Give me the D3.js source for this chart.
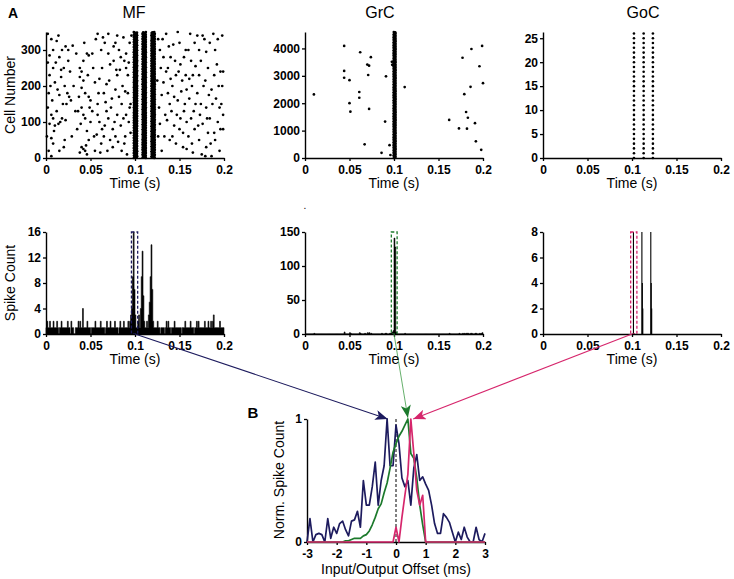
<!DOCTYPE html>
<html><head><meta charset="utf-8">
<script src="https://cdn.jsdelivr.net/npm/d3@7"></script>
<style>body{margin:0;background:#fff}svg{display:block}text{font-family:"Liberation Sans",Arial,sans-serif}</style>
</head><body><svg id="c" width="734" height="579"></svg>
<script>
// ---------------- data ----------------
const panelTitles = ["MF", "GrC", "GoC"];
const timeTicks = [0, 0.05, 0.1, 0.15, 0.2];
const timeTickLabels = ["0", "0.05", "0.1", "0.15", "0.2"];
const mfCellTicks = [0, 100, 200, 300];
const grcCellTicks = [0, 1000, 2000, 3000, 4000];
const gocCellTicks = [0, 5, 10, 15, 20, 25];
const mfCountTicks = [0, 4, 8, 12, 16];
const grcCountTicks = [0, 50, 100, 150];
const gocCountTicks = [0, 2, 4, 6, 8];
const offsetTicks = [-3, -2, -1, 0, 1, 2, 3];
const offsetTickLabels = ["-3", "-2", "-1", "0", "1", "2", "3"];
const normTicks = [0, 1];

// MF raster: synchronous bands (every cell fires once per band) + background spikes
const mfBandTimes = [0.1005, 0.1103, 0.1203];
const mfBandJitter = [-0.0018, 0.0006, -0.0004, 0.0015, -0.0011, 0.0019, 0.0, -0.0016, 0.0009, -0.0007, 0.0013, -0.0002, 0.0017, -0.0013];
const mfCellCount = 351;
const mfScatter = [
[0.002,345],[0.006,330],[0.008,300],[0.004,285],[0.002,265],[0.008,250],[0.010,210],[0.005,200],[0.003,180],[0.007,160],[0.002,140],[0.006,120],[0.008,110],[0.004,95],[0.001,60],[0.006,55],[0.008,40],[0.003,20],[0.006,5],[0.012,325],[0.015,280],[0.018,300],[0.022,310],[0.025,270],[0.020,250],[0.017,225],[0.021,200],[0.024,180],[0.026,170],[0.028,160],[0.023,150],[0.015,175],[0.013,190],[0.012,130],[0.018,110],[0.014,95],[0.010,90],[0.016,100],[0.022,105],[0.020,30],[0.015,20],[0.025,300],[0.030,312],[0.035,80],[0.038,250],[0.040,240],[0.038,225],[0.042,215],[0.040,195],[0.044,180],[0.046,290],[0.048,285],[0.042,270],[0.036,130],[0.040,140],[0.042,120],[0.044,110],[0.040,30],[0.042,25],[0.038,15],[0.045,35],[0.044,20],[0.046,10],[0.048,50],[0.050,160],[0.048,170],[0.050,100],[0.046,75],
[0.052,290],[0.055,210],[0.058,150],[0.060,220],[0.062,300],[0.058,120],[0.060,100],[0.063,80],[0.065,60],[0.055,20],[0.062,40],[0.068,205],[0.065,180],[0.070,290],[0.072,260],[0.068,130],[0.070,110],[0.075,80],[0.072,50],[0.066,320],[0.078,320],[0.080,340],[0.082,300],[0.076,270],[0.080,230],[0.078,190],[0.082,170],[0.085,150],[0.080,120],[0.084,90],[0.078,60],[0.075,30],[0.085,20],[0.088,40],[0.090,290],[0.088,270],[0.090,250],[0.092,230],[0.086,200],[0.092,180],[0.094,140],[0.090,120],[0.093,100],[0.095,70],[0.091,10],[0.096,340],[0.094,320],[0.087,335],[0.070,345],[0.064,335],[0.058,345],[0.053,250],[0.057,65],[0.061,15],[0.067,155],[0.074,165],[0.083,245],[0.089,60],[0.077,100],[0.052,130],
[0.125,215],[0.127,140],[0.128,95],[0.126,60],[0.130,20],[0.132,210],[0.130,175],[0.134,120],[0.136,105],[0.128,300],[0.131,330],[0.135,345],[0.138,310],[0.140,280],[0.137,250],[0.140,220],[0.142,200],[0.139,150],[0.141,130],[0.144,90],[0.142,60],[0.146,40],[0.148,350],[0.150,320],[0.145,270],[0.149,240],[0.152,185],[0.148,160],[0.151,110],[0.150,80],[0.154,30],[0.155,280],[0.157,230],[0.158,190],[0.156,150],[0.158,100],[0.160,60],[0.158,25],[0.162,345],[0.160,300],[0.163,270],[0.165,230],[0.164,200],[0.166,130],[0.163,110],[0.167,80],[0.165,15],[0.170,340],[0.172,300],[0.168,255],[0.172,230],[0.170,180],[0.174,150],[0.173,120],[0.176,95],[0.172,50],[0.175,10],[0.178,330],[0.180,295],[0.182,250],[0.179,215],[0.183,175],[0.180,140],[0.184,110],[0.182,70],[0.180,30],[0.186,5],[0.188,345],[0.190,300],[0.192,260],[0.189,230],[0.194,200],[0.191,165],[0.195,140],[0.193,100],[0.196,80],[0.190,50],[0.195,20],[0.198,340],[0.199,240],[0.198,200],[0.197,150],[0.199,80],[0.176,340],[0.186,190],[0.161,165],[0.153,215],[0.144,170],[0.135,240],[0.185,40],[0.179,5],
[0.004,230],[0.009,75],[0.011,265],[0.014,340],[0.019,150],[0.027,240],[0.029,60],[0.031,200],[0.033,130],[0.034,290],[0.037,170],[0.039,95],[0.043,320],[0.047,230],[0.049,140],[0.054,60],[0.056,330],[0.059,180],[0.063,250],[0.066,90],[0.069,20],[0.071,215],[0.073,140],[0.076,310],[0.079,245],[0.081,45],[0.084,280],[0.087,110],[0.089,185],[0.093,265],[0.095,150],[0.126,330],[0.129,250],[0.133,60],[0.137,180],[0.143,315],[0.147,120],[0.151,260],[0.154,70],[0.157,300],[0.161,220],[0.164,40],[0.168,150],[0.171,90],[0.174,270],[0.177,200],[0.181,110],[0.184,320],[0.187,150],[0.189,70],[0.193,330],[0.196,240],[0.199,120],[0.167,320],[0.155,130],[0.139,50],[0.146,230],[0.132,280],[0.021,50],[0.017,245]
];

// GrC raster
const grcBandTime = 0.1007;
const grcBandJitter = [-0.0008, 0.0004, -0.0002, 0.0009, -0.0006, 0.0001, 0.0007, -0.0009];
const grcCellCount = 4600;
const grcCellStride = 12;
const grcScatter = [
[0.010,2320],[0.044,4090],[0.044,3180],[0.044,2930],[0.050,2840],[0.050,2000],[0.051,1690],[0.062,3860],[0.061,2410],[0.061,2200],[0.067,500],[0.070,3410],[0.072,3370],[0.071,3030],[0.074,3680],[0.072,1790],[0.086,190],[0.090,1330],[0.091,2980],[0.095,470],[0.096,110],[0.0976,3510],[0.098,3400],[0.112,2590],
[0.162,1390],[0.173,1080],[0.177,3660],[0.187,3980],[0.179,2330],[0.181,1680],[0.183,1470],[0.182,1070],[0.186,2600],[0.191,1270],[0.192,610],[0.196,3350],[0.199,4090],[0.200,2730],[0.198,300]
];

// GoC raster: 27 cells, three synchronous volleys
const gocBandTimes = [0.1022, 0.1131, 0.1235];
const gocCellCount = 27;

// PSTHs, 1 ms bins starting at 0
const binWidth = 0.001;
const mfCounts = [
1,2,1,1,2,1,1,1,2,1, 1,1,2,1,0,1,1,2,1,1, 1,1,1,1,2,1,1,0,2,1, 1,0,0,1,1,1,2,1,2,1,
1,4,1,1,1,1,2,1,1,1, 0,1,1,1,1,2,1,1,1,1, 1,2,1,1,1,1,0,1,2,1, 1,1,2,1,1,1,1,2,1,1,
1,0,1,2,1,1,1,2,1,1, 1,1,2,1,2,3,4,9,16,7, 3,1,1,2,3,1,4,9,13,6, 2,1,1,2,1,3,5,9,14,7,
2,1,1,1,1,2,1,1,0,1, 1,1,1,0,1,2,1,2,1,1, 0,1,1,1,2,1,1,1,1,1, 1,1,0,1,1,1,2,1,1,1,
1,1,2,1,1,1,0,1,1,2, 1,2,1,1,1,1,1,1,2,1, 1,1,2,1,1,2,1,2,3,1, 1,1,1,1,1,2,1,1,1,1
];
const grcCounts = [
0,0,0,0,0,0,0,0,0,0, 1,0,0,0,0,0,0,0,0,0, 0,0,0,0,0,0,0,0,0,0, 0,0,0,0,0,0,0,0,0,0,
0,0,0,0,3,0,0,0,0,0, 2,1,0,0,0,0,0,0,0,0, 0,2,1,0,0,0,0,1,0,0, 2,1,2,0,1,0,0,0,0,0,
0,0,0,0,0,0,1,0,0,0, 1,1,0,0,0,1,1,2,3,5, 141,128,3,0,0,0,0,0,0,0, 0,0,1,0,0,0,0,0,0,0,
0,0,0,0,0,0,0,0,0,0, 0,0,0,0,0,0,0,0,0,0, 0,0,0,0,0,0,0,0,0,0, 0,0,0,0,0,0,0,0,0,0,
0,0,1,0,0,0,0,0,0,0, 0,0,0,1,0,0,0,1,0,1, 0,1,1,1,0,0,1,1,0,0, 0,1,1,0,0,0,1,0,1,2
];
// GoC PSTH: 0.5 ms bins, only non-empty bins listed
const gocBinWidth = 0.0005;
const gocBinStarts = [0.1010, 0.1105, 0.1110, 0.1115, 0.1205, 0.1210, 0.1215];
const gocBinCounts = [8, 8, 4, 2, 8, 4, 2];

// analysis windows (dashed boxes)
const mfWindow = [0.096, 0.103];
const grcWindow = [0.097, 0.1035];
const gocWindow = [0.0985, 0.1055];

// Panel B: input/output offset histograms (ms), normalised
const offsetMs = [-3,-2.9,-2.8,-2.7,-2.6,-2.5,-2.4,-2.3,-2.2,-2.1,-2,-1.9,-1.8,-1.7,-1.6,-1.5,-1.4,-1.3,-1.2,-1.1,-1,-0.9,-0.8,-0.7,-0.6,-0.5,-0.4,-0.3,-0.2,-0.1,0,0.1,0.2,0.3,0.4,0.5,0.6,0.7,0.8,0.9,1,1.1,1.2,1.3,1.4,1.5,1.6,1.7,1.8,1.9,2,2.1,2.2,2.3,2.4,2.5,2.6,2.7,2.8,2.9,3];
const mfNorm = [0,0.19,0,0.06,0.07,0.06,0,0.19,0.03,0.12,0.07,0.15,0.17,0.1,0.05,0.17,0.18,0.25,0.12,0.5,0.3,0.3,0.45,0.65,0.3,0.5,0.62,1.0,0.62,0.62,0.95,0.8,0.52,0.45,0.5,0.3,0.6,0.71,0.5,0.53,0.47,0.42,0.3,0.15,0.07,0.07,0.23,0.2,0.16,0.08,0,0.08,0.02,0.12,0.04,0,0,0.12,0.02,0,0.07];
const grcNorm = [0,0,0,0,0,0,0,0,0,0,0,0,0,0.01,0.01,0.02,0.03,0.03,0.03,0.05,0.06,0.09,0.14,0.2,0.27,0.31,0.4,0.48,0.6,0.73,0.8,0.86,0.9,0.95,1.0,0.72,0.68,0.52,0.3,0.14,0,0,0,0,0,0,0,0,0,0,0,0,0,0,0,0,0,0,0,0,0];
const gocNorm = [0,0,0,0,0,0,0,0,0,0,0,0,0,0,0,0,0,0,0,0,0,0,0,0,0,0,0,0,0,0,0.12,0,0.2,0.38,0.55,1.0,0.72,0.42,0.3,0.38,0,0,0,0,0,0,0,0,0,0,0,0,0,0,0,0,0,0,0,0,0];
// arrow targets in panel B (offset ms, norm value) and source time (s)
const arrowTargets = [[-0.28, 1.0], [0.4, 1.01], [0.58, 1.0]];
const arrowSourceTime = 0.1;

// ---------------- drawing ----------------
const navy = "#1d1b5e", green = "#1c7a2c", pink = "#d6266c", arrowGreen = "#3f9c46";
const svg = d3.select("#c");
const FONT = "Liberation Sans, Arial, sans-serif";

const xMF = d3.scaleLinear([0, 0.2], [46, 224]);
const xGrC = d3.scaleLinear([0, 0.2], [305, 483]);
const xGoC = d3.scaleLinear([0, 0.2], [543, 721]);
const yMFr = d3.scaleLinear([0, 350], [158, 32]);
const yGrCr = d3.scaleLinear([0, 4600], [158, 32]);
const yGoCr = d3.scaleLinear([0, 26.3], [158, 32]);
const yMFh = d3.scaleLinear([0, 16], [334, 232]);
const yGrCh = d3.scaleLinear([0, 150], [334, 232]);
const yGoCh = d3.scaleLinear([0, 8], [334, 232]);
const xB = d3.scaleLinear([-3, 3], [307, 485]);
const yB = d3.scaleLinear([0, 1], [542, 419]);

function styleAxis(g) {
  g.attr("font-family", FONT).attr("font-size", 12);
  g.selectAll("path.domain").attr("stroke", "#000").attr("stroke-width", 1.4);
  g.selectAll(".tick line").attr("stroke", "#000").attr("stroke-width", 1.3);
  g.selectAll(".tick text").attr("fill", "#000").attr("font-weight", "bold").attr("font-size", 12);
}
function drawAxes(x, y, xt, xl, yt, yl) {
  const gx = svg.append("g").attr("transform", `translate(0,${y.range()[0]})`)
    .call(d3.axisBottom(x).tickValues(xt).tickFormat((d, i) => xl[i]).tickSize(3).tickSizeOuter(0).tickPadding(4));
  styleAxis(gx);
  const gy = svg.append("g").attr("transform", `translate(${x.range()[0]},0)`)
    .call(d3.axisLeft(y).tickValues(yt).tickFormat((d, i) => yl ? yl[i] : d).tickSize(3).tickSizeOuter(0).tickPadding(2));
  styleAxis(gy);
}
function label(x, y, txt, size, opts = {}) {
  const t = svg.append("text").attr("x", x).attr("y", y).attr("text-anchor", opts.anchor || "middle")
    .attr("font-family", FONT).attr("font-size", size).attr("font-weight", opts.bold ? "bold" : "normal").attr("fill", "#000").text(txt);
  if (opts.rotate) t.attr("transform", `rotate(-90,${x},${y})`);
  return t;
}

// markers
const defs = svg.append("defs");
[["aNavy", navy], ["aGreen", green], ["aPink", pink]].forEach(([id, col]) => {
  defs.append("marker").attr("id", id).attr("viewBox", "0 0 10 8").attr("refX", 10).attr("refY", 4)
    .attr("markerWidth", 13).attr("markerHeight", 10).attr("markerUnits", "userSpaceOnUse").attr("orient", "auto")
    .append("path").attr("d", "M0,0 L10,4 L0,8 L2.5,4 Z").attr("fill", col);
});

// ---- top row rasters ----
const rDot = 1.35;
const gMF = svg.append("g");
gMF.selectAll("circle.s").data(mfScatter).join("circle").attr("cx", d => xMF(d[0])).attr("cy", d => yMFr(d[1])).attr("r", rDot).attr("fill", "#000");
const mfBandPts = [];
mfBandTimes.forEach((b, bi) => d3.range(mfCellCount).forEach(c => mfBandPts.push([b + mfBandJitter[(c + bi * 5) % mfBandJitter.length], c])));
gMF.selectAll("circle.b").data(mfBandPts).join("circle").attr("cx", d => xMF(d[0])).attr("cy", d => yMFr(d[1])).attr("r", rDot).attr("fill", "#000");

const gGrC = svg.append("g");
gGrC.selectAll("circle.s").data(grcScatter).join("circle").attr("cx", d => xGrC(d[0])).attr("cy", d => yGrCr(d[1])).attr("r", rDot).attr("fill", "#000");
const grcBandPts = d3.range(0, grcCellCount + 1, grcCellStride).map((c, i) => [grcBandTime + grcBandJitter[i % grcBandJitter.length], c]);
gGrC.selectAll("circle.b").data(grcBandPts).join("circle").attr("cx", d => xGrC(d[0])).attr("cy", d => yGrCr(d[1])).attr("r", rDot).attr("fill", "#000");

const gGoC = svg.append("g");
const gocPts = [];
gocBandTimes.forEach(b => d3.range(gocCellCount).forEach(c => gocPts.push([b, c])));
gGoC.selectAll("circle").data(gocPts).join("circle").attr("cx", d => xGoC(d[0])).attr("cy", d => yGoCr(d[1])).attr("r", 1.3).attr("fill", "#000");

drawAxes(xMF, yMFr, timeTicks, timeTickLabels, mfCellTicks);
drawAxes(xGrC, yGrCr, timeTicks, timeTickLabels, grcCellTicks);
drawAxes(xGoC, yGoCr, timeTicks, timeTickLabels, gocCellTicks);

// ---- bottom row PSTHs ----
function psth(x, y, counts) {
  const pts = counts.map((c, i) => [i * binWidth, c]);
  pts.push([counts.length * binWidth, 0]);
  const area = d3.area().x(d => x(d[0])).y0(y(0)).y1(d => y(d[1])).curve(d3.curveStepAfter);
  svg.append("path").attr("d", area(pts)).attr("fill", "#000").attr("stroke", "#000").attr("stroke-width", 0.6);
}
psth(xMF, yMFh, mfCounts);
psth(xGrC, yGrCh, grcCounts);
svg.append("g").selectAll("rect").data(gocBinStarts).join("rect")
  .attr("x", d => xGoC(d)).attr("width", d => Math.max(1.1, xGoC(d + gocBinWidth) - xGoC(d)))
  .attr("y", (d, i) => yGoCh(gocBinCounts[i])).attr("height", (d, i) => yGoCh(0) - yGoCh(gocBinCounts[i])).attr("fill", "#000");

function windowBox(x, y, w, col) {
  svg.append("rect").attr("x", x(w[0])).attr("y", y(y.domain()[1])).attr("width", x(w[1]) - x(w[0]))
    .attr("height", y(0) - y(y.domain()[1])).attr("fill", "none").attr("stroke", col).attr("stroke-width", 1.3).attr("stroke-dasharray", "3,2");
}
windowBox(xMF, yMFh, mfWindow, navy);
windowBox(xGrC, yGrCh, grcWindow, green);
windowBox(xGoC, yGoCh, gocWindow, pink);

drawAxes(xMF, yMFh, timeTicks, timeTickLabels, mfCountTicks);
drawAxes(xGrC, yGrCh, timeTicks, timeTickLabels, grcCountTicks);
drawAxes(xGoC, yGoCh, timeTicks, timeTickLabels, gocCountTicks);

// ---- panel B ----
drawAxes(xB, yB, offsetTicks, offsetTickLabels, normTicks);
svg.append("line").attr("x1", xB(0)).attr("x2", xB(0)).attr("y1", yB(0)).attr("y2", yB(1))
  .attr("stroke", "#000").attr("stroke-width", 1).attr("stroke-dasharray", "3,2");
const lineB = d3.line().x((d, i) => xB(offsetMs[i])).y(d => yB(d));
[[mfNorm, navy], [grcNorm, green], [gocNorm, pink]].forEach(([arr, col]) => {
  svg.append("path").attr("d", lineB(arr)).attr("fill", "none").attr("stroke", col).attr("stroke-width", 1.7).attr("stroke-linejoin", "round");
});

// ---- arrows ----
const sources = [[xMF, yMFh], [xGrC, yGrCh], [xGoC, yGoCh]];
const arrowCols = [[navy, "aNavy", 1.1], [arrowGreen, "aGreen", 0.8], [pink, "aPink", 1.1]];
sources.forEach(([x, y], i) => {
  svg.append("line").attr("x1", x(arrowSourceTime)).attr("y1", y(0))
    .attr("x2", xB(arrowTargets[i][0])).attr("y2", yB(arrowTargets[i][1]))
    .attr("stroke", arrowCols[i][0]).attr("stroke-width", arrowCols[i][2]).attr("marker-end", `url(#${arrowCols[i][1]})`);
});

// ---- text ----
label(8, 18, "A", 14, { bold: true, anchor: "start" });
label(253, 418, "B", 15, { bold: true, anchor: "middle" });
label(134, 18, panelTitles[0], 16);
label(380, 18, panelTitles[1], 16);
label(643, 18, panelTitles[2], 16);
[xMF, xGrC, xGoC].forEach(x => {
  label((x.range()[0] + x.range()[1]) / 2, 188, "Time (s)", 14);
  label((x.range()[0] + x.range()[1]) / 2, 364, "Time (s)", 14);
});
label(15, 95, "Cell Number", 14, { rotate: true });
label(15, 283, "Spike Count", 14, { rotate: true });
label(284, 480, "Norm. Spike Count", 14, { rotate: true });
label(396, 574, "Input/Output Offset (ms)", 14);
label(305, 209, ".", 10);
</script></body></html>
